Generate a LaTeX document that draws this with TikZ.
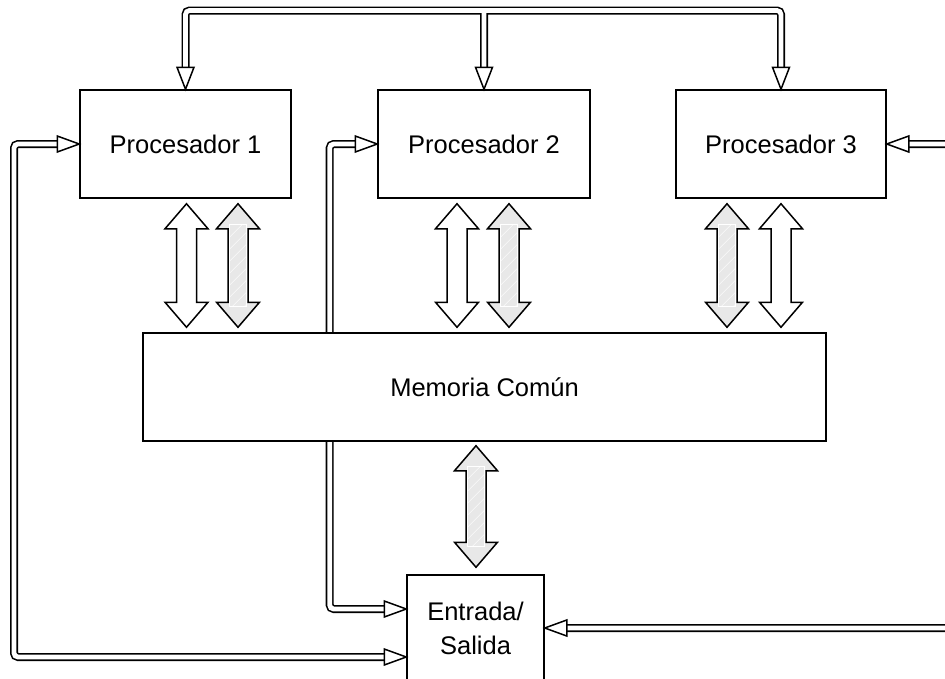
\documentclass[tikz,border=0pt]{standalone}
\usepackage{fontspec}
\setmainfont{Liberation Sans}
\usetikzlibrary{calc}

\tikzset{
  box/.style={draw, line width=1.5pt, fill=white, inner sep=0pt, align=center,
              font=\fontsize{25.5}{34}\selectfont},
  bus/.style={double=white, double distance=4.8pt, line width=1.6pt, rounded corners=4pt},
  head/.style={draw, line width=1.5pt, fill=white, line join=miter},
  blockw/.style={draw, line width=1.5pt, fill=white, line join=miter},
  blockg/.style={draw, line width=1.5pt, fill=gray!18, line join=miter},
  pics/headdown/.style={code={\draw[head] (0,0) -- (-8.5,-22) -- (8.5,-22) -- cycle;}},
  pics/headright/.style={code={\draw[head] (0,0) -- (-22,-8) -- (-22,8) -- cycle;}},
  pics/headleft/.style={code={\draw[head] (0,0) -- (22,-8) -- (22,8) -- cycle;}},
}

% double-headed block arrow between a top tip and a bottom tip
\newcommand\blockarr[3]{%
  \draw[#1] (#2) -- ++(21.5,25) -- ++(-11.5,0) -- ($(#3)+(10,-25)$) -- ++(11.5,0)
    -- (#3) -- ++(-21.5,-25) -- ++(11.5,0) -- ($(#2)+(-10,25)$) -- ++(-11.5,0) -- cycle;}
% light hatching inside the shaft of a grey block arrow
\newcommand\hatcharr[2]{%
  \begin{scope}
    \clip ($(#1)+(-8.5,21)$) rectangle ($(#2)+(8.5,-21)$);
    \foreach \k in {0,...,12}
      \draw[white, line width=0.6pt, opacity=0.8] ($(#1)+(-20,21+\k*12)$) -- ++(40,-40);
  \end{scope}
  \draw[white, line width=1pt] ($(#1)+(-8.5,21)$) rectangle ($(#2)+(8.5,-21)$);}

\begin{document}
\begin{tikzpicture}[x=1pt, y=-1pt]
  \useasboundingbox (0,0) rectangle (945,678);
  \clip (0,0) rectangle (945,678);

  % processors and I/O unit
  \node[box, minimum width=211pt, minimum height=108pt] (p1) at (185.5,144) {Procesador 1};
  \node[box, minimum width=212pt, minimum height=108pt] (p2) at (484,144) {Procesador 2};
  \node[box, minimum width=210pt, minimum height=108pt] (p3) at (781,144) {Procesador 3};
  \node[box, minimum width=137pt, minimum height=106pt] (es) at (475.5,628) {Entrada/\\Salida};

  % buses
  \draw[bus] ($(p1.north)+(0,-21)$) |- (p3.north |- 0,10.5) -- ($(p3.north)+(0,-21)$)
             ($(p2.north)+(0,-21)$) -- (p2.north |- 0,10.5);
  \draw[bus] ($(p1.west)+(-21,0)$) -| (14,400) |- ($(es.west)+(-21,29)$);
  \draw[bus] ($(p2.west)+(-21,0)$) -| (329.7,400) |- ($(es.west)+(-21,-19)$);
  \draw[bus] ($(p3.east)+(21,0)$) -| (965,400) |- ($(es.east)+(21,0)$);

  % bus arrow heads
  \pic at (p1.north) {headdown};
  \pic at (p2.north) {headdown};
  \pic at (p3.north) {headdown};
  \pic at (p1.west) {headright};
  \pic at (p2.west) {headright};
  \pic at ($(es.west)+(0,-19)$) {headright};
  \pic at ($(es.west)+(0,29)$) {headright};
  \pic at (p3.east) {headleft};
  \pic at (es.east) {headleft};

  % shared memory
  \node[box, minimum width=683pt, minimum height=108pt] (mem) at (484.5,387) {Memoria Común};

  % tips of the block arrows
  \path (p1.south -| 186.5,0) ++(0,5) coordinate (a1);
  \path (p1.south -| 238,0)   ++(0,5) coordinate (a2);
  \path (p2.south -| 457,0)   ++(0,5) coordinate (a3);
  \path (p2.south -| 509,0)   ++(0,5) coordinate (a4);
  \path (p3.south -| 727,0)   ++(0,5) coordinate (a5);
  \path (p3.south -| 781,0)   ++(0,5) coordinate (a6);
  \foreach \i in {1,...,6} \path (a\i |- mem.north) ++(0,-5) coordinate (b\i);
  \path (mem.south -| 476,0) ++(0,4) coordinate (c1);
  \path (es.north -| 476,0) ++(0,-7) coordinate (c2);

  % block arrows between processors, memory and I/O
  \blockarr{blockw}{a1}{b1}
  \blockarr{blockg}{a2}{b2} \hatcharr{a2}{b2}
  \blockarr{blockw}{a3}{b3}
  \blockarr{blockg}{a4}{b4} \hatcharr{a4}{b4}
  \blockarr{blockg}{a5}{b5} \hatcharr{a5}{b5}
  \blockarr{blockw}{a6}{b6}
  \blockarr{blockg}{c1}{c2} \hatcharr{c1}{c2}
\end{tikzpicture}
\end{document}
